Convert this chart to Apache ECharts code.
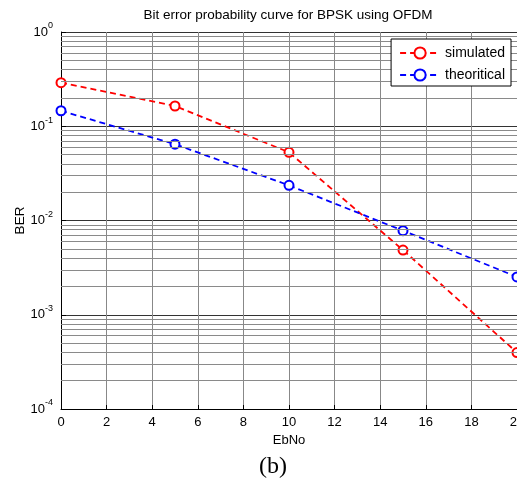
<!DOCTYPE html>
<html>
<head>
<meta charset="utf-8">
<script src="https://cdn.jsdelivr.net/npm/echarts@6/dist/echarts.min.js"></script>
<style>html,body{margin:0;padding:0;background:#fff}#c{width:517px;height:479px}</style>
</head>
<body>
<div id="c"></div>
<script>
const ebNo = [0, 5, 10, 15, 20];
const simulated = [0.29, 0.164, 0.0529, 0.00486, 0.000397];
const theoretical = [0.146, 0.0645, 0.0236, 0.0078, 0.00252];
const xTicks = [0, 2, 4, 6, 8, 10, 12, 14, 16, 18, 20];
const yMinorGrid = [];
[1e-4, 1e-3, 1e-2, 1e-1].forEach(function (d) {
  for (let k = 2; k <= 9; k++) yMinorGrid.push(+(d * k).toPrecision(3));
});
const titleText = 'Bit error probability curve for BPSK using OFDM';

const chart = echarts.init(document.getElementById('c'), null, {renderer: 'canvas'});
const font = 'Liberation Sans, Arial, sans-serif';
chart.setOption({
  animation: false,
  backgroundColor: '#fff',
  textStyle: {fontFamily: font},
  grid: {left: 61, top: 32, right: 0, bottom: 70, containLabel: false, outerBoundsMode: 'none'},
  graphic: [
    {type: 'text', x: 288, y: 15, style: {text: titleText, font: '13.5px ' + font, fill: '#000', align: 'center', verticalAlign: 'middle'}},
    {type: 'text', x: 273, y: 467, style: {text: '(b)', font: '24px "Liberation Serif", "Times New Roman", serif', fill: '#000', align: 'center', verticalAlign: 'middle'}}
  ],
  legend: {
    orient: 'vertical', right: 6, top: 39, z: 20,
    backgroundColor: '#fff', borderColor: '#000', borderWidth: 1,
    padding: [7, 6, 4, 8], itemGap: 8, itemWidth: 40, itemHeight: 14,
    textStyle: {fontSize: 14, color: '#000', fontFamily: font},
    data: ['simulated', 'theoritical']
  },
  xAxis: {
    type: 'value', min: 0, max: 20, interval: 2,
    name: 'EbNo', nameLocation: 'middle', nameGap: 25, nameMoveOverlap: false,
    nameTextStyle: {fontSize: 13, color: '#000'},
    axisLine: {show: true, onZero: false, lineStyle: {color: '#000', width: 1}},
    axisTick: {show: true, inside: true, length: 4, lineStyle: {color: '#000'}},
    axisLabel: {fontSize: 13, color: '#000', margin: 7},
    splitLine: {show: true, lineStyle: {color: '#888', width: 1}}
  },
  yAxis: {
    type: 'log', logBase: 10, min: 1e-4, max: 1,
    name: 'BER', nameLocation: 'middle', nameGap: 34, nameMoveOverlap: false,
    nameTextStyle: {fontSize: 13.5, color: '#000'},
    axisLine: {show: true, lineStyle: {color: '#000', width: 1}},
    axisTick: {show: true, inside: true, length: 5, lineStyle: {color: '#000'}},
    axisLabel: {
      margin: 8, color: '#000',
      formatter: function (v) {
        const e = Math.round(Math.log10(v));
        return '{b|10}{s|' + e + '}';
      },
      rich: {
        b: {fontSize: 13, fontFamily: font, color: '#000'},
        s: {fontSize: 9, fontFamily: font, color: '#000', padding: [0, 0, 12, 0]}
      }
    },
    splitLine: {show: true, lineStyle: {color: '#333', width: 1}}
  },
  series: [
    {
      name: 'grid', type: 'line', data: [], silent: true, z: 0,
      markLine: {
        silent: true, symbol: ['none', 'none'], animation: false, precision: 8,
        label: {show: false},
        lineStyle: {color: '#8a8a8a', type: 'solid', width: 1},
        emphasis: {disabled: true},
        data: yMinorGrid.map(function (v) { return {yAxis: v}; })
      }
    },
    {
      name: 'simulated', type: 'line', z: 3,
      data: ebNo.map(function (x, i) { return [x, simulated[i]]; }),
      symbol: 'emptyCircle', symbolSize: 9,
      lineStyle: {color: '#ff0000', width: 1.8, type: [6, 4]},
      itemStyle: {color: '#ff0000', borderColor: '#ff0000', borderWidth: 1.8},
      emphasis: {disabled: true}
    },
    {
      name: 'theoritical', type: 'line', z: 3,
      data: ebNo.map(function (x, i) { return [x, theoretical[i]]; }),
      symbol: 'emptyCircle', symbolSize: 9,
      lineStyle: {color: '#0000ff', width: 1.8, type: [6, 4]},
      itemStyle: {color: '#0000ff', borderColor: '#0000ff', borderWidth: 1.8},
      emphasis: {disabled: true}
    }
  ]
});
</script>
</body>
</html>
